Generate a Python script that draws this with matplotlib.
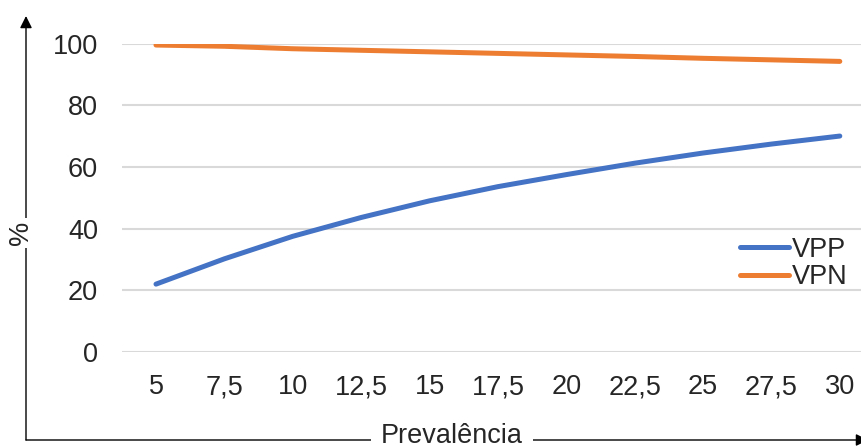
import matplotlib
matplotlib.use("Agg")
import matplotlib.pyplot as plt
from matplotlib.patches import FancyArrowPatch

prevalence = ["5", "7,5", "10", "12,5", "15", "17,5", "20", "22,5", "25", "27,5", "30"]
vpp = [22.0, 30.2, 37.5, 43.6, 49.0, 53.6, 57.5, 61.2, 64.5, 67.4, 70.0]
vpn = [99.5, 99.1, 98.3, 97.8, 97.3, 96.8, 96.3, 95.8, 95.2, 94.7, 94.2]
yticks = [0, 20, 40, 60, 80, 100]

plt.rcParams['font.family'] = ['Liberation Sans', 'DejaVu Sans']
FS = 19.5
W, H = 862, 447
fig = plt.figure(figsize=(W/100, H/100), dpi=100)
ax = fig.add_axes([121.8/W, 95/H, (874-121.8)/W, 308.5/H])

x = list(range(len(prevalence)))
ax.plot(x, vpp, color='#4472C4', lw=3.6, solid_capstyle='round', label='VPP', zorder=3)
ax.plot(x, vpn, color='#ED7D31', lw=3.6, solid_capstyle='round', label='VPN', zorder=3)

ax.set_xlim(-0.5, len(prevalence) - 0.5)
ax.set_ylim(0, 100)
ax.set_xticks(x)
ax.set_xticklabels(prevalence)
ax.set_yticks(yticks)
ax.set_yticklabels([str(v) for v in yticks])
ax.tick_params(axis='both', length=0, labelsize=FS, colors='#262626')
ax.tick_params(axis='y', pad=17)
ax.tick_params(axis='x', pad=16)
ax.grid(axis='y', color='#D9D9D9', lw=1.5)
ax.set_axisbelow(True)
for s in ax.spines.values():
    s.set_visible(False)
ax.patch.set_alpha(0)

leg = ax.legend(loc='center left', bbox_to_anchor=(740/W, 1-263.5/H),
                bbox_transform=fig.transFigure, frameon=False, fontsize=FS,
                handlelength=1.8, handletextpad=0.12, labelspacing=0.05,
                borderpad=0, borderaxespad=0)
for t in leg.get_texts():
    t.set_color('#262626')

# outer arrow axes
fig.add_artist(FancyArrowPatch((26/W, 1-440/H), (26/W, 1-16/H), transform=fig.transFigure,
                               arrowstyle='-|>', mutation_scale=18, color='black', lw=1.0,
                               shrinkA=0, shrinkB=0, zorder=1))
fig.add_artist(FancyArrowPatch((26/W, 1-440/H), (868/W, 1-440/H), transform=fig.transFigure,
                               arrowstyle='-|>', mutation_scale=18, color='black', lw=1.0,
                               shrinkA=0, shrinkB=0, zorder=1))

fig.text(21/W, 1-233/H, '%', rotation=90, ha='center', va='center', fontsize=FS,
         color='#262626', zorder=3,
         bbox=dict(facecolor='white', edgecolor='none', pad=2))
fig.text(452/W, 1-436/H, 'Prevalência', ha='center', va='center', fontsize=FS,
         color='#262626', zorder=3,
         bbox=dict(facecolor='white', edgecolor='none', pad=7))

fig.savefig('out.png', dpi=100)
